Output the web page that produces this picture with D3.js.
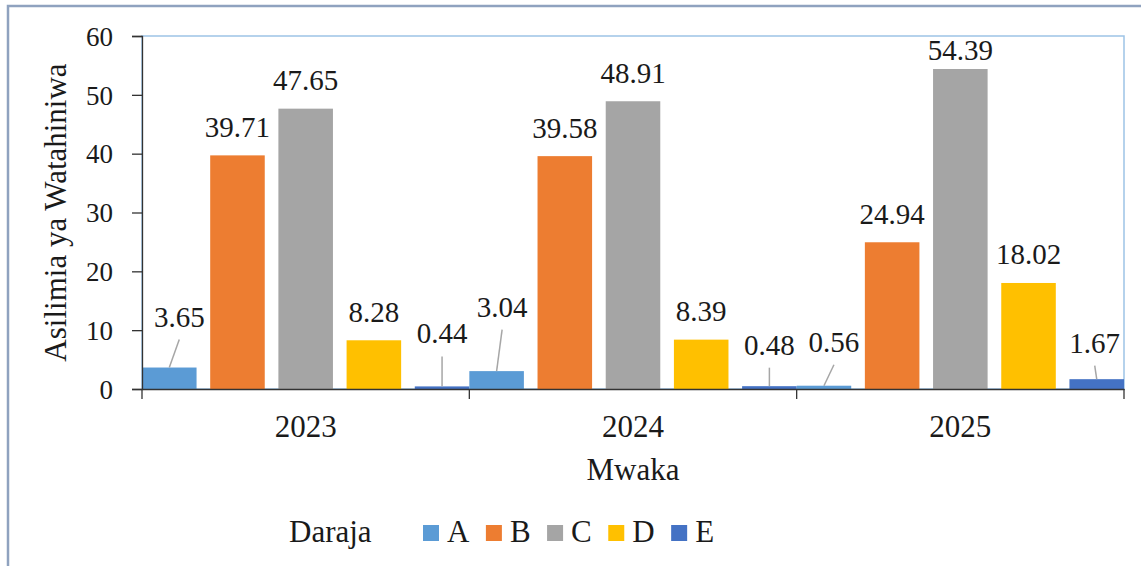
<!DOCTYPE html>
<html>
<head>
<meta charset="utf-8">
<script src="https://cdn.jsdelivr.net/npm/d3@7"></script>
</head>
<body style="margin:0">
<svg id="chart" width="1141" height="566"></svg>
<script>
// ---- data ----
const years = ["2023", "2024", "2025"];
const grades = ["A", "B", "C", "D", "E"];
const valuesA = [3.65, 3.04, 0.56];
const valuesB = [39.71, 39.58, 24.94];
const valuesC = [47.65, 48.91, 54.39];
const valuesD = [8.28, 8.39, 18.02];
const valuesE = [0.44, 0.48, 1.67];
const yTicks = [0, 10, 20, 30, 40, 50, 60];
const yTitle = "Asilimia ya Watahiniwa";
const xTitle = "Mwaka";
const legendTitle = "Daraja";

// ---- styles / layout ----
const FONT = '"Liberation Serif"';
const colors = { A: "#5B9BD5", B: "#ED7D31", C: "#A5A5A5", D: "#FFC000", E: "#4472C4" };
const seriesValues = { A: valuesA, B: valuesB, C: valuesC, D: valuesD, E: valuesE };
const plot = { left: 142, right: 1124, top: 36, bottom: 389 };
// manual label nudges (dx, dy relative to default outside-end position), with leader lines
const labelNudge = {
  "2023-A": [10, -22.5, true],
  "2024-A": [5.5, -36, true],
  "2025-A": [10, -15.5, true],
  "2023-E": [0, -24.5, true],
  "2024-E": [0, -13, true],
  "2025-E": [-2, -8, true],
  "2025-C": [0, 9, false]
};

const rows = [];
years.forEach((yr, i) => grades.forEach(g => rows.push({ year: yr, grade: g, value: seriesValues[g][i] })));

const svg = d3.select("#chart").style("display", "block");

// outer chart border
svg.append("rect")
  .attr("x", 8).attr("y", 6).attr("width", 1160).attr("height", 600)
  .attr("fill", "none").attr("stroke", "#8FA2BF").attr("stroke-width", 2.5);

const x0 = d3.scaleBand().domain(years).range([plot.left, plot.right]).padding(0);
const x1 = d3.scaleBand().domain(grades).range([0, x0.bandwidth()]).paddingInner(0.2).paddingOuter(0);
const y = d3.scaleLinear().domain([0, 60]).range([plot.bottom, plot.top]);

// plot area border
svg.append("rect")
  .attr("x", plot.left).attr("y", plot.top)
  .attr("width", plot.right - plot.left).attr("height", plot.bottom - plot.top)
  .attr("fill", "none").attr("stroke", "#9DC3E6").attr("stroke-width", 1.5);

// bars
svg.append("g").selectAll("rect").data(rows).join("rect")
  .attr("x", d => x0(d.year) + x1(d.grade))
  .attr("y", d => y(d.value))
  .attr("width", x1.bandwidth())
  .attr("height", d => y(0) - y(d.value))
  .attr("fill", d => colors[d.grade]);

// y axis
const yAxis = svg.append("g")
  .attr("transform", `translate(${plot.left},0)`)
  .call(d3.axisLeft(y).tickValues(yTicks).tickSize(10).tickPadding(19).tickFormat(d3.format("d")));
yAxis.selectAll("path").attr("stroke", "#333").attr("stroke-width", 1.3);
yAxis.selectAll("line").attr("stroke", "#333").attr("stroke-width", 1.3);
yAxis.selectAll("text").attr("fill", "#1a1a1a").attr("dy", "0.34em")
  .style("font-family", FONT).style("font-size", "27px");

// x axis
const xAxis = svg.append("g")
  .attr("transform", `translate(0,${plot.bottom})`)
  .call(d3.axisBottom(x0).tickSizeInner(0).tickSizeOuter(0).tickPadding(26));
xAxis.selectAll("path").attr("stroke", "#333").attr("stroke-width", 1.3);
xAxis.selectAll("text").attr("fill", "#1a1a1a")
  .style("font-family", FONT).style("font-size", "31px");
// boundary ticks
const bounds = years.map(yr => x0(yr)).concat([x0(years[years.length - 1]) + x0.bandwidth()]);
svg.append("g").selectAll("line").data(bounds).join("line")
  .attr("x1", d => d).attr("x2", d => d)
  .attr("y1", plot.bottom).attr("y2", plot.bottom + 10)
  .attr("stroke", "#333").attr("stroke-width", 1.3);

// data labels
const labelG = svg.append("g");
rows.forEach(d => {
  const cx = x0(d.year) + x1(d.grade) + x1.bandwidth() / 2;
  const top = y(d.value);
  const nudge = labelNudge[d.year + "-" + d.grade] || [0, 0, false];
  const lx = cx + nudge[0];
  const ly = top - 18.5 + nudge[1];
  if (nudge[2]) {
    labelG.append("line")
      .attr("x1", lx).attr("y1", ly + 13)
      .attr("x2", cx).attr("y2", top)
      .attr("stroke", "#A6A6A6").attr("stroke-width", 1.5);
  }
  labelG.append("text")
    .attr("x", lx).attr("y", ly)
    .attr("text-anchor", "middle")
    .attr("fill", "#1a1a1a")
    .style("font-family", FONT).style("font-size", "29px")
    .text(d3.format(".2f")(d.value));
});

// axis titles
svg.append("text")
  .attr("transform", `translate(66,${(plot.top + plot.bottom) / 2}) rotate(-90)`)
  .attr("text-anchor", "middle").attr("fill", "#1a1a1a")
  .style("font-family", FONT).style("font-size", "31px")
  .text(yTitle);
svg.append("text")
  .attr("x", (plot.left + plot.right) / 2).attr("y", 480)
  .attr("text-anchor", "middle").attr("fill", "#1a1a1a")
  .style("font-family", FONT).style("font-size", "31px")
  .text(xTitle);

// legend
const legend = svg.append("g");
legend.append("text").attr("x", 289).attr("y", 542).attr("fill", "#1a1a1a")
  .style("font-family", FONT).style("font-size", "31px").text(legendTitle);
let lxPos = 423;
grades.forEach(g => {
  legend.append("rect").attr("x", lxPos).attr("y", 525).attr("width", 16).attr("height", 16).attr("fill", colors[g]);
  const t = legend.append("text").attr("x", lxPos + 24).attr("y", 542).attr("fill", "#1a1a1a")
    .style("font-family", FONT).style("font-size", "31px").text(g);
  lxPos = lxPos + 24 + t.node().getComputedTextLength() + 16.5;
});
</script>
</body>
</html>
